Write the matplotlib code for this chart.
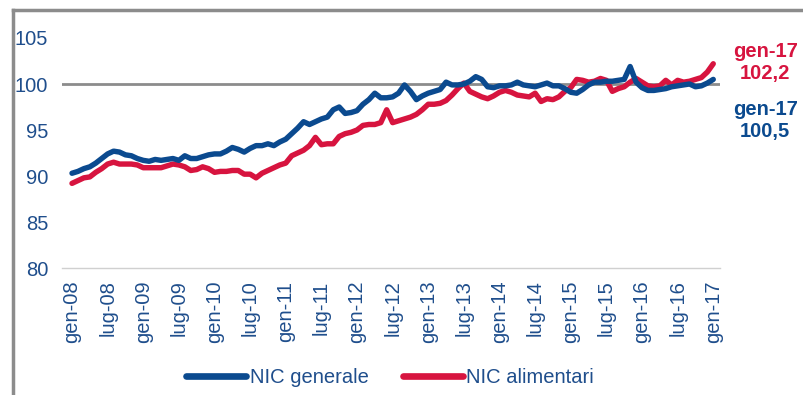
import numpy as np
import matplotlib
matplotlib.use("Agg")
from matplotlib import pyplot as plt
from matplotlib.lines import Line2D

plt.rcParams["font.family"] = ["Liberation Sans", "DejaVu Sans"]

BLUE = "#0b4a8f"
RED = "#d7143f"
TXT = "#1f4e8c"

# indici mensili, gen-08 .. gen-17
nic_generale = [
    90.3, 90.5, 90.8, 91.0, 91.4, 91.9, 92.4, 92.7, 92.6, 92.3,
    92.2, 91.9, 91.7, 91.6, 91.8, 91.7, 91.8, 91.9, 91.7, 92.2,
    91.9, 91.9, 92.1, 92.3, 92.4, 92.4, 92.7, 93.1, 92.9, 92.6,
    93.0, 93.3, 93.3, 93.5, 93.3, 93.7, 94.0, 94.6, 95.2, 95.9,
    95.6, 95.9, 96.2, 96.4, 97.2, 97.5, 96.8, 96.9, 97.1, 97.8,
    98.3, 99.0, 98.5, 98.5, 98.6, 99.0, 99.9, 99.2, 98.3, 98.7,
    99.0, 99.2, 99.4, 100.2, 99.9, 99.9, 100.0, 100.3, 100.8, 100.5,
    99.7, 99.6, 99.8, 99.8, 99.9, 100.2, 99.9, 99.8, 99.7, 99.9,
    100.1, 99.8, 99.8, 99.5, 99.1, 99.0, 99.4, 99.9, 100.2, 100.2,
    100.3, 100.3, 100.4, 100.5, 101.9, 100.2, 99.6, 99.3, 99.3, 99.4,
    99.5, 99.7, 99.8, 99.9, 100.0, 99.7, 99.8, 100.1, 100.5,
]
nic_alimentari = [
    89.2, 89.5, 89.8, 89.9, 90.4, 90.8, 91.3, 91.5, 91.3, 91.3,
    91.3, 91.2, 90.9, 90.9, 90.9, 90.9, 91.1, 91.3, 91.2, 91.0,
    90.6, 90.7, 91.0, 90.8, 90.4, 90.5, 90.5, 90.6, 90.6, 90.2,
    90.2, 89.8, 90.3, 90.6, 90.9, 91.2, 91.4, 92.2, 92.5, 92.8,
    93.3, 94.2, 93.4, 93.5, 93.5, 94.3, 94.6, 94.75, 95.0, 95.5,
    95.6, 95.6, 95.8, 97.2, 95.8, 96.0, 96.2, 96.4, 96.7, 97.2,
    97.8, 97.8, 97.9, 98.2, 98.8, 99.5, 100.1, 99.2, 98.9, 98.6,
    98.4, 98.7, 99.1, 99.3, 99.1, 98.8, 98.7, 98.6, 99.0, 98.1,
    98.4, 98.3, 98.6, 99.2, 99.6, 100.5, 100.4, 100.2, 100.3, 100.6,
    100.4, 99.2, 99.5, 99.7, 100.2, 100.6, 100.2, 99.8, 99.7, 99.8,
    100.4, 99.9, 100.4, 100.2, 100.3, 100.5, 100.7, 101.3, 102.2,
]
tick_labels = [
    "gen-08", "lug-08", "gen-09", "lug-09", "gen-10", "lug-10",
    "gen-11", "lug-11", "gen-12", "lug-12", "gen-13", "lug-13",
    "gen-14", "lug-14", "gen-15", "lug-15", "gen-16", "lug-16", "gen-17",
]
last_label = "gen-17"

months = np.arange(len(nic_generale))

fig = plt.figure(figsize=(8.04, 3.95), dpi=100)
ax = fig.add_axes([0.077, 0.3215, 0.819, 0.5823])

ax.axhline(100, color="#8c8c8c", lw=2.0, zorder=1)
ax.plot(months, nic_generale, color=BLUE, lw=3.9, solid_capstyle="round",
        label="NIC generale", zorder=3)
ax.plot(months, nic_alimentari, color=RED, lw=3.9, solid_capstyle="round",
        label="NIC alimentari", zorder=2)

ax.set_xlim(-1.7, 109.2)
ax.set_ylim(80, 105)
ax.set_yticks([80, 85, 90, 95, 100, 105])
ax.set_xticks(np.arange(0, len(months), 6))
ax.set_xticklabels(tick_labels, rotation=90)
ax.tick_params(axis="both", length=0, labelsize=14.5, labelcolor=TXT)
ax.tick_params(axis="x", pad=9)
ax.tick_params(axis="y", pad=10)

for side in ("top", "right", "left"):
    ax.spines[side].set_visible(False)
ax.spines["bottom"].set_color("#d0d0d0")
ax.spines["bottom"].set_linewidth(1.0)

# valori finali a destra
ax.text(1.068, 0.893, f"{last_label}\n{nic_alimentari[-1]:.1f}".replace(".", ","),
        transform=ax.transAxes, ha="center", va="center", color=RED,
        fontsize=14.5, fontweight="bold", linespacing=1.2)
ax.text(1.068, 0.643, f"{last_label}\n{nic_generale[-1]:.1f}".replace(".", ","),
        transform=ax.transAxes, ha="center", va="center", color=BLUE,
        fontsize=14.5, fontweight="bold", linespacing=1.2)

leg = fig.legend(loc="center", bbox_to_anchor=(0.485, 0.045), ncol=2,
                 frameon=False, fontsize=14.5, handlelength=3.0,
                 handletextpad=0.15, columnspacing=1.7)
for t in leg.get_texts():
    t.set_color(TXT)
for h in leg.legend_handles:
    h.set_linewidth(4.8)

# cornice del riquadro
fig.add_artist(Line2D([0.016, 0.016], [0.0, 0.975], transform=fig.transFigure,
                      color="#8c8c8c", lw=2.5))
fig.add_artist(Line2D([0.016, 1.0], [0.975, 0.975], transform=fig.transFigure,
                      color="#8c8c8c", lw=2.5))

fig.savefig("out.png", dpi=100)
